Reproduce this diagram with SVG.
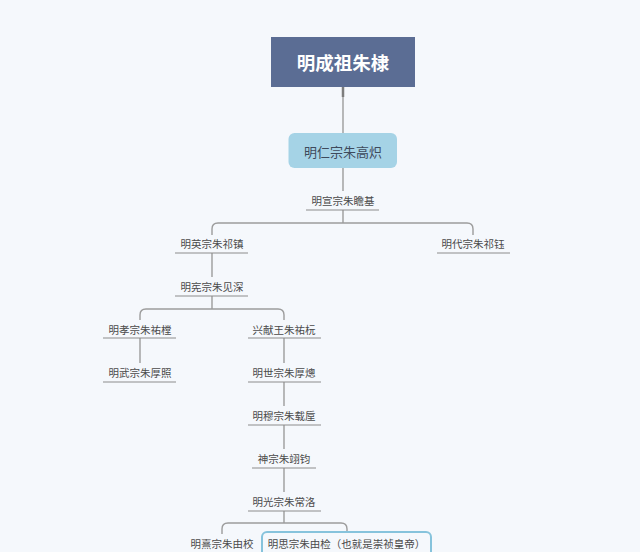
<svg xmlns="http://www.w3.org/2000/svg" width="640" height="552" viewBox="0 0 640 552">
<style>
text{font-family:"Noto Sans CJK SC","Noto Sans",sans-serif;text-anchor:middle;dominant-baseline:central}
.lbl{font-size:10.5px;fill:#4a4a4a}
.ul{stroke:#8c8c8c;stroke-width:1;fill:none}
.con{stroke:#9c9c9c;stroke-width:1.4;fill:none}
</style>
<rect x="0" y="0" width="640" height="552" fill="#f5f8fc"/>
<g id="connectors">
<path class="con" d="M343 87 V133"/>
<path d="M343 87 V97" stroke="#7d7d7d" stroke-width="2.5" fill="none"/>
<path class="con" d="M343 168 V191"/>
<path class="con" d="M343 210 V223"/>
<path class="con" d="M212 235 V229 Q212 223 218 223 H467 Q473 223 473 229 V235"/>
<path class="con" d="M212 253 V277"/>
<path class="con" d="M212 296 V309"/>
<path class="con" d="M140 320 V315 Q140 309 146 309 H278 Q284 309 284 315 V320"/>
<path class="con" d="M140 338 V363"/>
<path class="con" d="M284 338 V363"/>
<path class="con" d="M284 382 V406"/>
<path class="con" d="M284 425 V449"/>
<path class="con" d="M284 468 V492"/>
<path class="con" d="M284 511 V523"/>
<path class="con" d="M222 534 V529 Q222 523 228 523 H341 Q347 523 347 529 V532"/>
</g>
<g id="root">
<rect x="271" y="37" width="144" height="50" fill="#5b6d94"/>
<text x="343" y="62" style="font-size:18.5px;font-weight:bold;fill:#ffffff">明成祖朱棣</text>
</g>
<g id="ren">
<rect x="288.500" y="133" width="108.500" height="35" rx="6" fill="#a5d3e6"/>
<text x="343" y="151" style="font-size:13px;fill:#3e4a5c">明仁宗朱高炽</text>
</g>
<g id="xuan">
<text class="lbl" x="343" y="200">明宣宗朱瞻基</text>
<path class="ul" d="M306 210 H379"/>
</g>
<g id="ying">
<text class="lbl" x="212" y="243">明英宗朱祁镇</text>
<path class="ul" d="M175 253 H248"/>
</g>
<g id="dai">
<text class="lbl" x="473" y="243">明代宗朱祁钰</text>
<path class="ul" d="M437 253 H510"/>
</g>
<g id="xian">
<text class="lbl" x="212" y="286">明宪宗朱见深</text>
<path class="ul" d="M175 296 H248"/>
</g>
<g id="xiao">
<text class="lbl" x="140" y="329">明孝宗朱祐樘</text>
<path class="ul" d="M103 338 H176"/>
</g>
<g id="xing">
<text class="lbl" x="284" y="329">兴献王朱祐杬</text>
<path class="ul" d="M248 338 H321"/>
</g>
<g id="wu">
<text class="lbl" x="140" y="372">明武宗朱厚照</text>
<path class="ul" d="M103 382 H176"/>
</g>
<g id="shi">
<text class="lbl" x="284" y="372">明世宗朱厚熜</text>
<path class="ul" d="M248 382 H321"/>
</g>
<g id="mu">
<text class="lbl" x="284" y="415">明穆宗朱载垕</text>
<path class="ul" d="M248 425 H321"/>
</g>
<g id="shen">
<text class="lbl" x="284" y="458">神宗朱翊钧</text>
<path class="ul" d="M252 468 H316"/>
</g>
<g id="guang">
<text class="lbl" x="284" y="501">明光宗朱常洛</text>
<path class="ul" d="M248 511 H321"/>
</g>
<g id="xi">
<text class="lbl" x="222" y="543">明熹宗朱由校</text>
</g>
<g id="si">
<rect x="262" y="532" width="169" height="30" rx="5" fill="#f5f8fc" stroke="#86c3dc" stroke-width="2"/>
<text class="lbl" x="346.500" y="543">明思宗朱由检（也就是崇祯皇帝）</text>
</g>
</svg>
